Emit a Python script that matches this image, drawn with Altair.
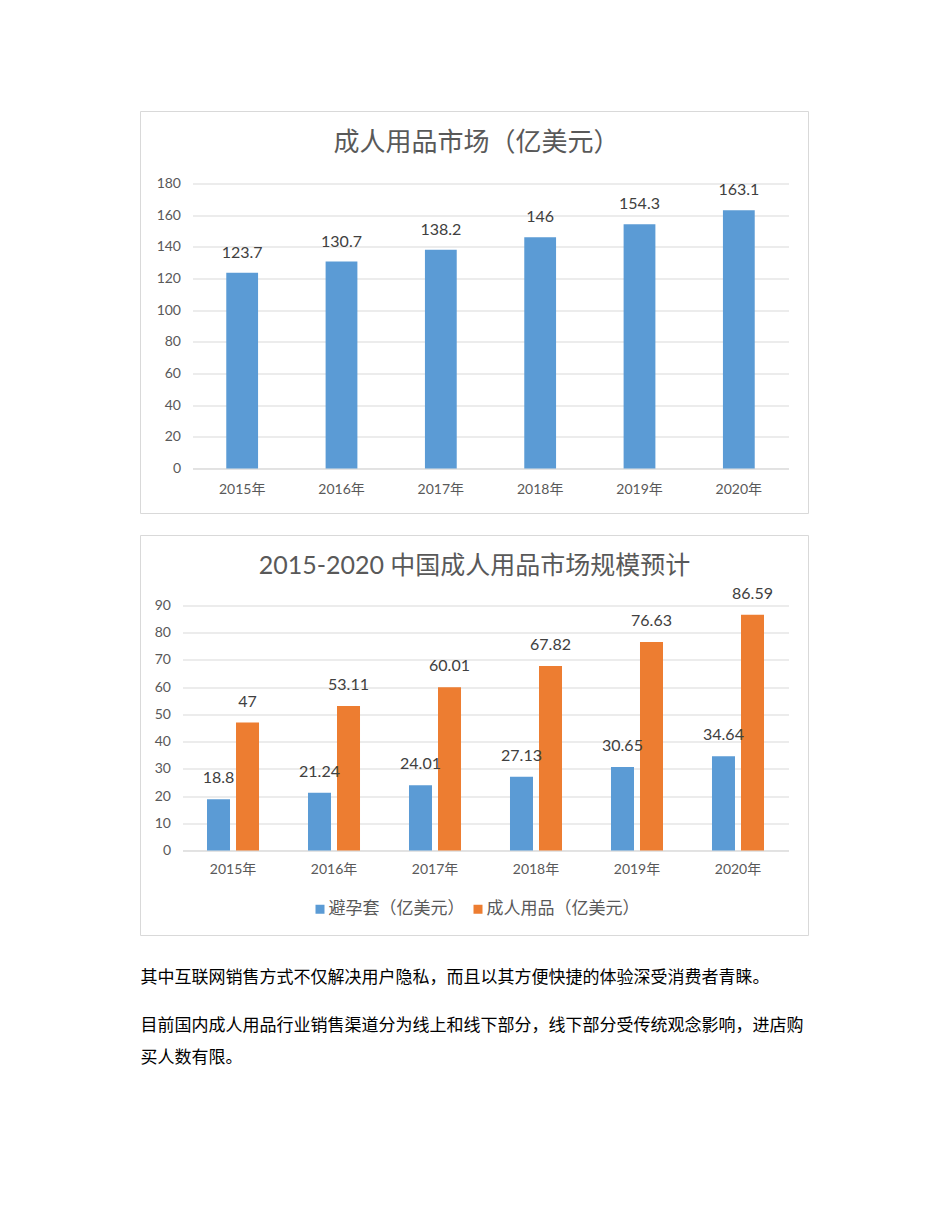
import altair as alt
import pandas as pd

# ---------------- data ----------------
years = ["2015年", "2016年", "2017年", "2018年", "2019年", "2020年"]
market = [123.7, 130.7, 138.2, 146, 154.3, 163.1]
condom = [18.8, 21.24, 24.01, 27.13, 30.65, 34.64]
adult = [47, 53.11, 60.01, 67.82, 76.63, 86.59]
series_names = ["避孕套（亿美元）", "成人用品（亿美元）"]
title1 = "成人用品市场（亿美元）"
title2 = "2015-2020 中国成人用品市场规模预计"
para1 = ["其中互联网销售方式不仅解决用户隐私，而且以其方便快捷的体验深受消费者青睐。"]
para2 = ["目前国内成人用品行业销售渠道分为线上和线下部分，线下部分受传统观念影响，进店购", "买人数有限。"]

# ---------------- styles ----------------
BLUE = "#5b9bd5"
ORANGE = "#ed7d31"
GRID = "#d9d9d9"
AXT = "#595959"
LBL = "#404040"
FONT = "Lato, 'Noto Sans CJK SC', sans-serif"
CJK = "'Noto Sans CJK SC', sans-serif"

frame = pd.DataFrame({"k": [0]})


def yaxis(vals, pad):
    return alt.Axis(title=None, values=vals, grid=True, gridColor=GRID, gridWidth=1,
                    domain=False, ticks=False, tickSize=0, labelPadding=pad,
                    labelOverlap=False, labelFlush=False, labelBound=False,
                    labelFont=FONT, labelFontSize=14, labelColor=AXT)


def xaxis(pad):
    return alt.Axis(title=None, labelAngle=0, domain=True, domainColor=GRID, domainWidth=1,
                    ticks=False, tickSize=0, labelPadding=pad, labelFont=FONT,
                    labelOverlap=False, labelFontSize=14, labelColor=AXT, grid=False)


# ---------------- chart 1 ----------------
W1, H1 = 596, 285
df1 = pd.DataFrame({"year": years, "value": market})

box1 = alt.Chart(frame).mark_rect(filled=False, stroke=GRID, strokeWidth=1).encode(
    x=alt.value(-52), x2=alt.value(616), y=alt.value(-72), y2=alt.value(330))
ttl1 = alt.Chart(frame).mark_text(text=title1, font=CJK, fontSize=26, color=AXT,
                                  align="center", baseline="middle").encode(
    x=alt.value(284), y=alt.value(-41))

x1 = alt.X("year:N", sort=years, scale=alt.Scale(paddingInner=0.68, paddingOuter=0.34),
           axis=xaxis(14))
y1 = alt.Y("value:Q", scale=alt.Scale(domain=[0, 180], nice=False, zero=True),
           axis=yaxis(list(range(0, 181, 20)), 12))
bars1 = alt.Chart(df1).mark_bar(color=BLUE).encode(x=x1, y=y1)
lab1 = alt.Chart(df1).mark_text(font=FONT, fontSize=16, color=LBL, dy=-20,
                                baseline="middle").encode(
    x=x1, y=y1, text=alt.Text("value:Q"))

chart1 = alt.layer(box1, ttl1, bars1, lab1).properties(width=W1, height=H1)

# ---------------- chart 2 ----------------
W2, H2 = 596, 245
rows = []
for i, yv in enumerate(years):
    rows.append({"year": yv, "series": series_names[0], "value": condom[i]})
    rows.append({"year": yv, "series": series_names[1], "value": adult[i]})
df2 = pd.DataFrame(rows)

box2 = alt.Chart(frame).mark_rect(filled=False, stroke=GRID, strokeWidth=1).encode(
    x=alt.value(-52), x2=alt.value(616), y=alt.value(-70), y2=alt.value(330))
ttl2 = alt.Chart(frame).mark_text(text=title2, font=FONT, fontSize=25, color=AXT,
                                  align="center", baseline="middle").encode(
    x=alt.value(282), y=alt.value(-40))

x2 = alt.X("year:N", sort=years,
           scale=alt.Scale(paddingInner=0.485, paddingOuter=0.2426, range=[-10, 596]),
           axis=xaxis(12))
xo = alt.XOffset("series:N", sort=series_names,
                 scale=alt.Scale(paddingInner=0.207, paddingOuter=0))
y2 = alt.Y("value:Q", scale=alt.Scale(domain=[0, 90], nice=False, zero=True),
           axis=yaxis(list(range(0, 91, 10)), 22))
col = alt.Color("series:N", sort=series_names,
                scale=alt.Scale(domain=series_names, range=[BLUE, ORANGE]),
                legend=alt.Legend(title=None, orient="none", legendX=119, legendY=295,
                                  direction="horizontal", symbolType="square",
                                  symbolSize=81, symbolStrokeWidth=0, symbolOpacity=1,
                                  labelFont=CJK, labelFontSize=17, labelColor=AXT,
                                  labelOffset=0, columnPadding=5))
bars2 = alt.Chart(df2).mark_bar().encode(x=x2, xOffset=xo, y=y2, color=col)
lab2 = alt.Chart(df2).mark_text(font=FONT, fontSize=16, color=LBL, dy=-21,
                                baseline="middle").encode(
    x=x2, xOffset=xo, y=y2, text=alt.Text("value:Q"))

chart2 = alt.layer(box2, ttl2, bars2, lab2).properties(width=W2, height=H2)

# ---------------- text block ----------------
trows = []
for pi, para in enumerate([para1, para2]):
    for li, line in enumerate(para):
        trows.append({"line": line, "pos": pi * 1.5 + li})
dft = pd.DataFrame(trows)
texts = alt.Chart(dft).mark_text(font=CJK, fontSize=17, color="#000000", align="left",
                                 baseline="middle").encode(
    x=alt.value(-52),
    y=alt.Y("pos:Q", scale=alt.Scale(domain=[0, 2.5], reverse=True, nice=False), axis=None),
    text="line:N").properties(width=596, height=80)

chart = alt.vconcat(
    alt.vconcat(chart1, chart2, spacing=20).resolve_legend(color="independent"),
    texts, spacing=32
).resolve_legend(color="independent").properties(
    padding={"left": 131.5, "top": 102.5, "right": 10, "bottom": 10},
    background="white"
).configure_view(stroke=None, strokeWidth=0)

chart.save("out.html", embed_options={"renderer": "svg", "actions": False})
